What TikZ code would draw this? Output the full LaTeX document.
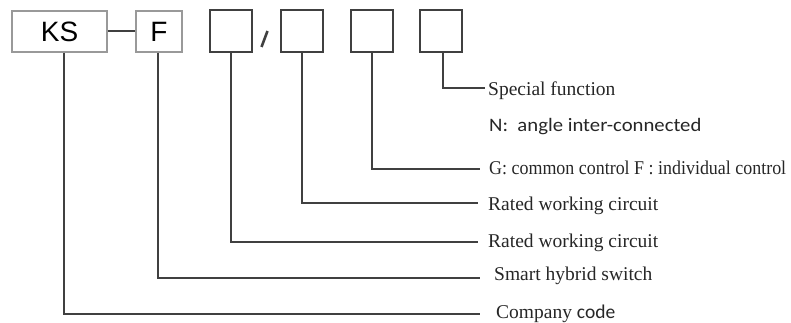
\documentclass[tikz,border=0pt]{standalone}
\usepackage{fontspec}
\setmainfont{Liberation Serif}
\newfontfamily\calib{Carlito}
\newfontfamily\arial{Liberation Sans}
\begin{document}
\begin{tikzpicture}[x=1pt,y=-1pt,
  lightbox/.style={draw=black!40,line width=1.2pt,inner sep=0pt},
  darkbox/.style={draw=black!75,line width=2pt,inner sep=0pt},
  leader/.style={draw=black!75,line width=2pt},
  lbl/.style={anchor=base west,inner sep=0pt,text=black!85,font=\fontsize{19.5}{21}\selectfont}]
\useasboundingbox (0,0) rectangle (791,323);
% code boxes
\node[lightbox,minimum width=95pt,minimum height=41pt,font=\arial\fontsize{28}{30}\selectfont] (ks) at (59.5,31.5) {KS};
\node[lightbox,minimum width=46pt,minimum height=41pt,font=\arial\fontsize{28}{30}\selectfont] (f) at (159,31.5) {F};
\node[darkbox,minimum width=42pt,minimum height=42pt] (b3) at (231,31) {};
\node[darkbox,minimum width=42pt,minimum height=42pt] (b4) at (302,31) {};
\node[darkbox,minimum width=42pt,minimum height=42pt] (b5) at (372,31) {};
\node[darkbox,minimum width=42pt,minimum height=42pt] (b6) at (440.5,31) {};
\draw[leader] (ks.east |- 0,31) -- (f.west |- 0,31);
\coordinate (s1) at (261.5,47);
\coordinate (s2) at (267.5,31);
\draw[leader,line width=2.6pt] (s1) -- (s2);
% labels
\node[lbl] (t6) at (488,96) {Special function};
\node[lbl] (tn) at (489,132) {\calib\fontsize{19}{21}\selectfont\scalebox{1.09}[1]{N:\ \ angle inter-connected}};
\node[lbl] (t5) at (489,175) {\scalebox{0.92}[1]{G: common control F : individual control}};
\node[lbl] (t4) at (488,210) {Rated working circuit};
\node[lbl] (t3) at (488,247) {Rated working circuit};
\node[lbl] (t2) at (494,280) {Smart hybrid switch};
\node[lbl] (t1) at (496,318) {Company\ {\calib\fontsize{19.5}{21}\selectfont code}};
% leaders
\coordinate (e6) at (485,88);
\coordinate (e5) at (480,169);
\coordinate (e4) at (478,203);
\coordinate (e3) at (478,242);
\coordinate (e2) at (480,278);
\coordinate (e1) at (480,314);
\draw[leader] ([xshift=2.5pt]b6.south) |- (e6);
\draw[leader] (b5.south) |- (e5);
\draw[leader] (b4.south) |- (e4);
\draw[leader] (b3.south) |- (e3);
\draw[leader] ([xshift=-1pt]f.south) |- (e2);
\draw[leader] ([xshift=4.5pt]ks.south) |- (e1);
\end{tikzpicture}
\end{document}
